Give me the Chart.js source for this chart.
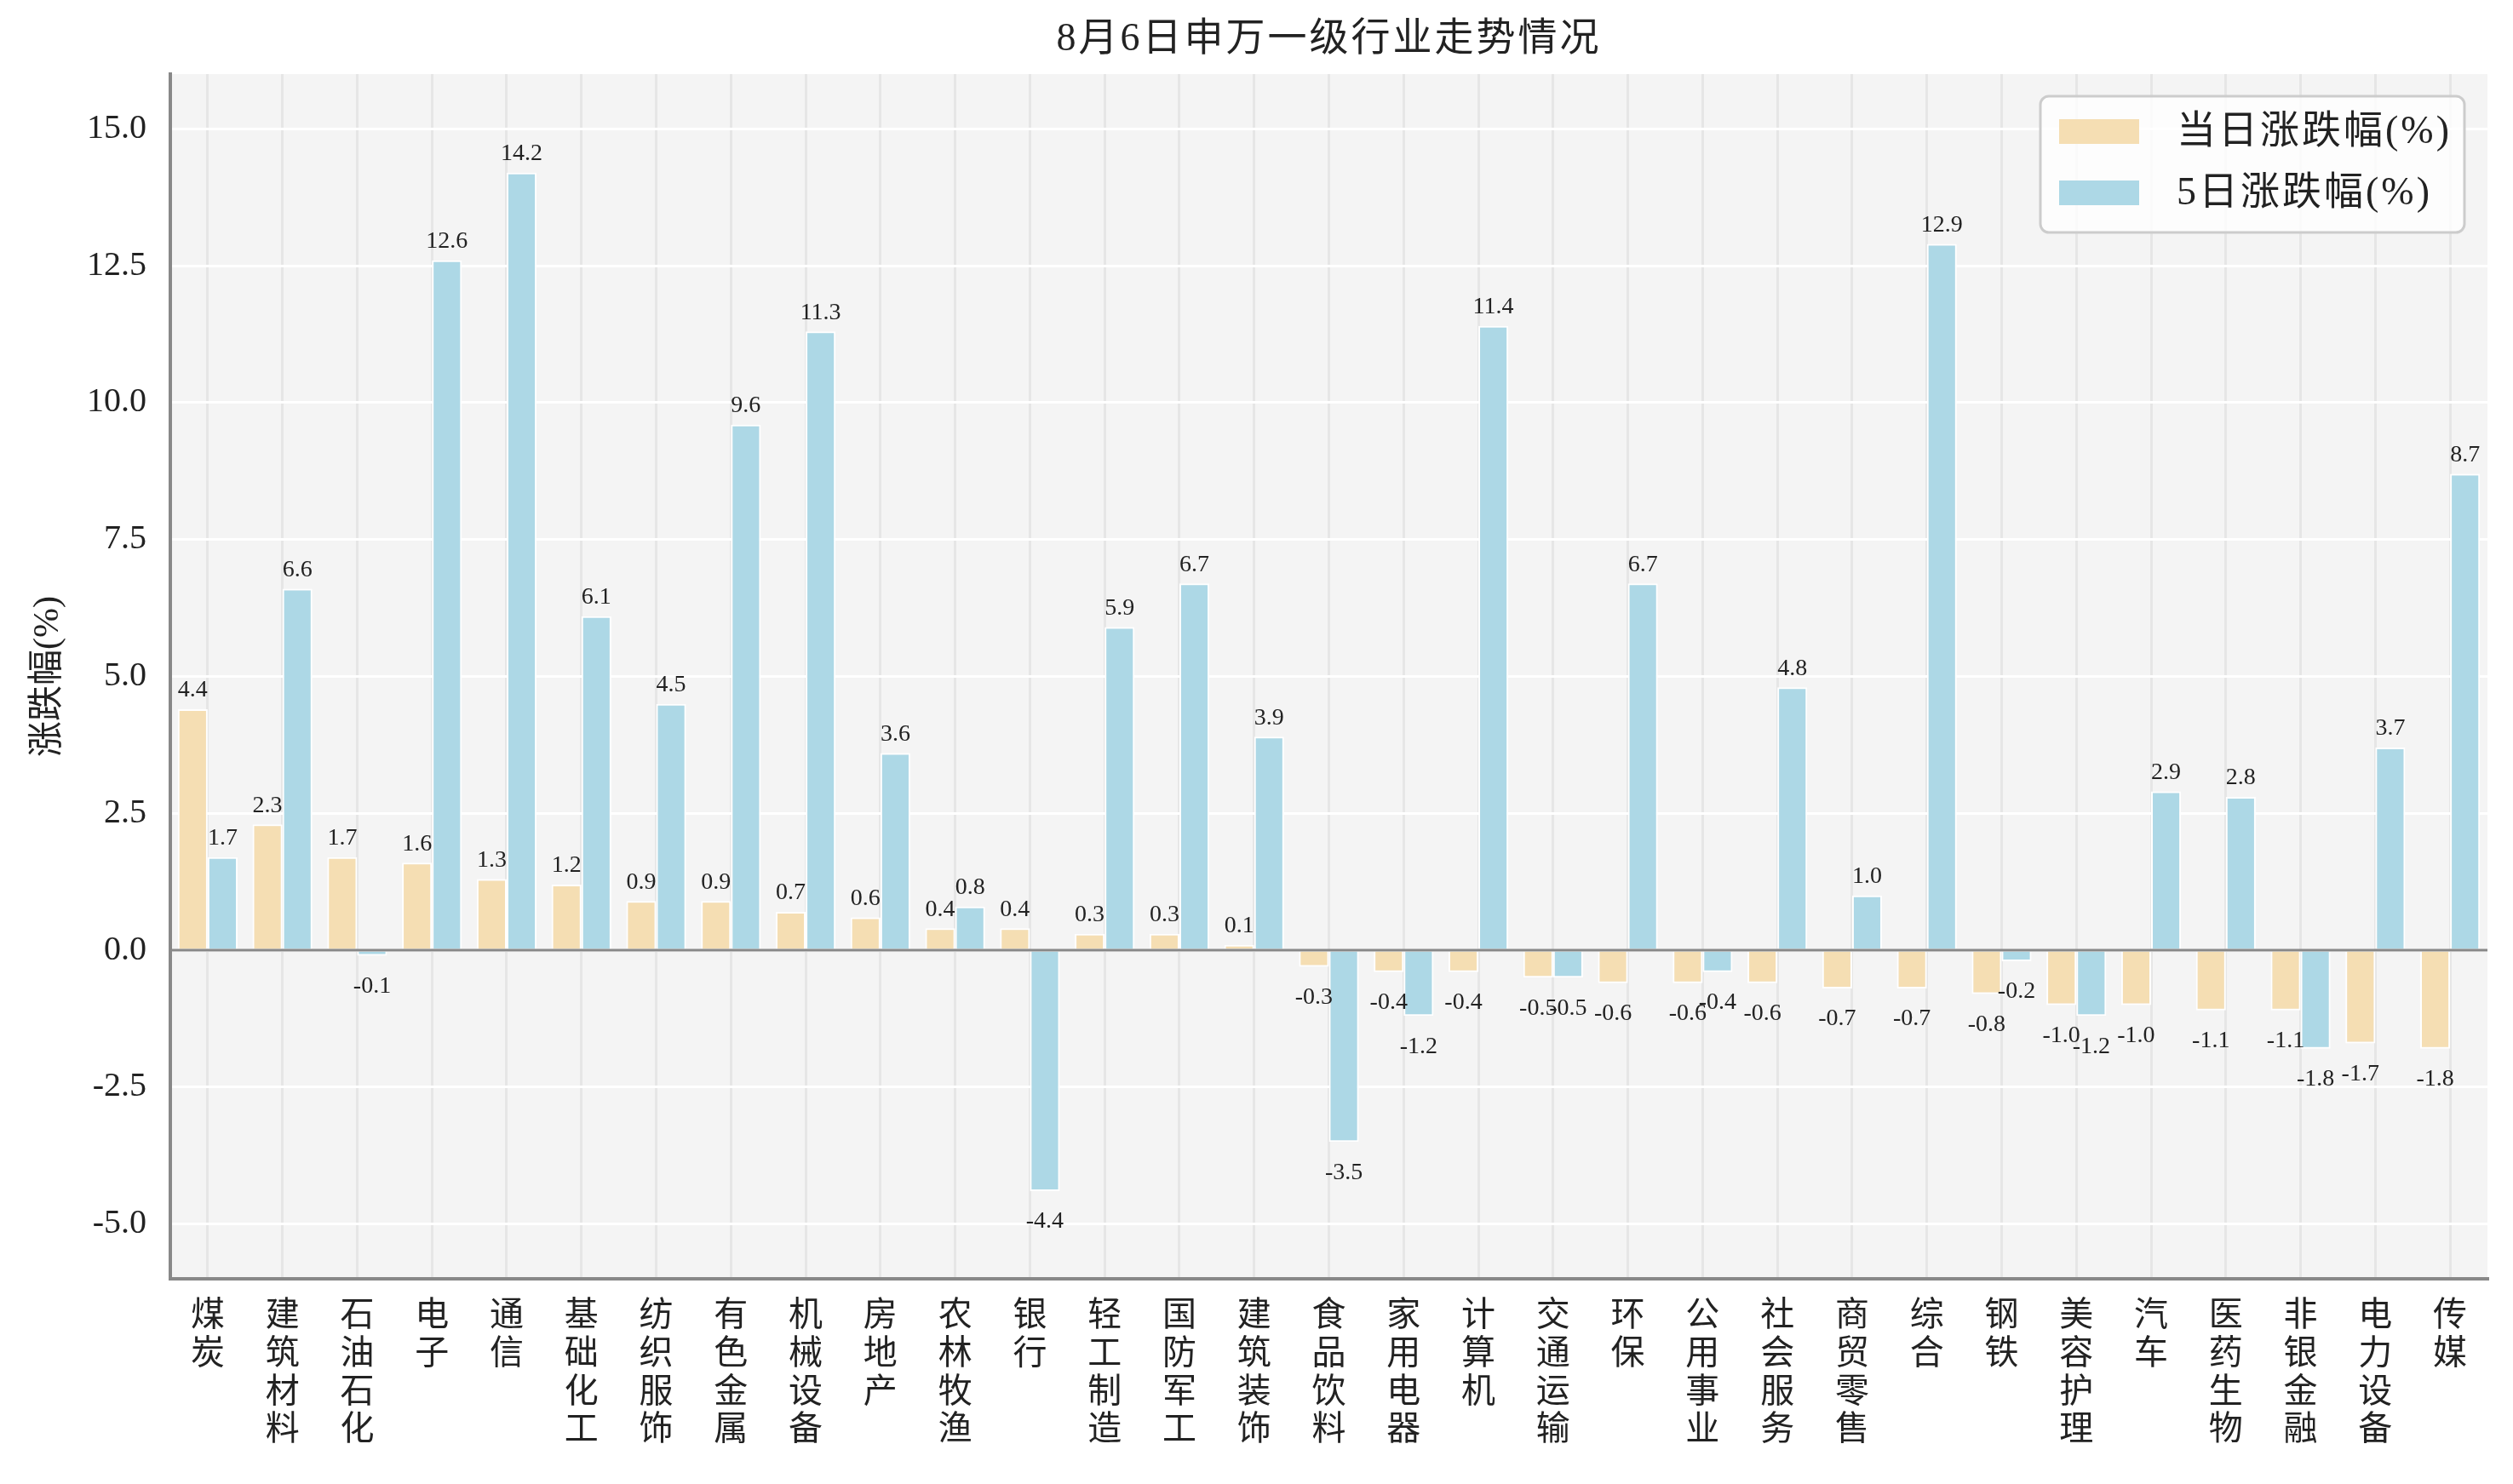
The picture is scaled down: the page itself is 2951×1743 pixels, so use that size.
<!DOCTYPE html>
<html lang="zh">
<head>
<meta charset="utf-8">
<title>8月6日申万一级行业走势情况</title>
<script src="https://cdn.jsdelivr.net/npm/chart.js@4.4.1/dist/chart.umd.min.js"></script>
<style>
  html, body { margin: 0; padding: 0; background: #fff; }
  #wrap { width: 2951px; height: 1743px; }
</style>
</head>
<body>
<div id="wrap"><canvas id="myChart" width="2951" height="1743"></canvas></div>
<script>
// 申万一级行业
const industries = ['煤炭', '建筑材料', '石油石化', '电子', '通信', '基础化工', '纺织服饰', '有色金属',
    '机械设备', '房地产', '农林牧渔', '银行', '轻工制造', '国防军工', '建筑装饰', '食品饮料',
    '家用电器', '计算机', '交通运输', '环保', '公用事业', '社会服务', '商贸零售', '综合',
    '钢铁', '美容护理', '汽车', '医药生物', '非银金融', '电力设备', '传媒'];

// 当日涨跌幅(%)
const dailyChange = [4.4, 2.3, 1.7, 1.6, 1.3, 1.2, 0.9, 0.9, 0.7, 0.6, 0.4, 0.4, 0.3, 0.3, 0.1,
    -0.3, -0.4, -0.4, -0.5, -0.6, -0.6, -0.6, -0.7, -0.7, -0.8, -1.0, -1.0, -1.1, -1.1, -1.7, -1.8];

// 5日涨跌幅(%)
const fiveDayChange = [1.7, 6.6, -0.1, 12.6, 14.2, 6.1, 4.5, 9.6, 11.3, 3.6, 0.8, -4.4, 5.9, 6.7, 3.9,
    -3.5, -1.2, 11.4, -0.5, 6.7, -0.4, 4.8, 1.0, 12.9, -0.2, -1.2, 2.9, 2.8, -1.8, 3.7, 8.7];

const yTicks = [-5, -2.5, 0, 2.5, 5, 7.5, 10, 12.5, 15];
const seriesNames = ['当日涨跌幅(%)', '5日涨跌幅(%)'];
const chartTitle = '8月6日申万一级行业走势情况';
const yTitle = '涨跌幅(%)';

const FONT = "'Liberation Serif', 'Noto Sans CJK SC', serif";
const TEXT = '#222222';

// fons gris de l'area del grafic
const plotBackground = {
    id: 'plotBackground',
    beforeDraw(chart) {
        const { ctx, chartArea: a } = chart;
        ctx.save();
        ctx.fillStyle = '#f4f4f4';
        ctx.fillRect(a.left, a.top, a.right - a.left, a.bottom - a.top);
        ctx.restore();
    }
};

// titol centrat sobre l'area del grafic
const plotTitle = {
    id: 'plotTitle',
    afterDraw(chart) {
        const { ctx, chartArea: a } = chart;
        ctx.save();
        ctx.font = `46px ${FONT}`;
        ctx.fillStyle = TEXT;
        ctx.textAlign = 'center';
        ctx.textBaseline = 'middle';
        if ('letterSpacing' in ctx) ctx.letterSpacing = '3px';
        ctx.fillText(chartTitle, (a.left + a.right) / 2, 47);
        ctx.restore();
    }
};

// linia del zero per sobre de les barres
const zeroLine = {
    id: 'zeroLine',
    afterDatasetsDraw(chart) {
        const { ctx, chartArea: a } = chart;
        const y = chart.scales.y.getPixelForValue(0);
        ctx.save();
        ctx.strokeStyle = '#888888';
        ctx.lineWidth = 3;
        ctx.beginPath();
        ctx.moveTo(a.left, y);
        ctx.lineTo(a.right, y);
        ctx.stroke();
        ctx.restore();
    }
};

// etiquetes de valor sobre / sota cada barra
const barLabels = {
    id: 'barLabels',
    afterDatasetsDraw(chart) {
        const ctx = chart.ctx;
        ctx.save();
        ctx.fillStyle = TEXT;
        ctx.font = `28px ${FONT}`;
        ctx.textAlign = 'center';
        chart.data.datasets.forEach((ds, di) => {
            const meta = chart.getDatasetMeta(di);
            meta.data.forEach((bar, i) => {
                const v = ds.data[i];
                if (v >= 0) {
                    ctx.textBaseline = 'bottom';
                    ctx.fillText(v.toFixed(1), bar.x, bar.y - 8);
                } else {
                    ctx.textBaseline = 'top';
                    ctx.fillText(v.toFixed(1), bar.x, bar.y + 22);
                }
            });
        });
        ctx.restore();
    }
};

// llegenda dins la caixa de dalt a la dreta
const boxLegend = {
    id: 'boxLegend',
    afterDraw(chart) {
        const { ctx, chartArea: a } = chart;
        const boxW = 498, boxH = 160;
        const x0 = a.right - 27 - boxW;
        const y0 = a.top + 26;
        ctx.save();
        ctx.beginPath();
        ctx.roundRect(x0, y0, boxW, boxH, 10);
        ctx.fillStyle = 'rgba(255,255,255,0.8)';
        ctx.fill();
        ctx.lineWidth = 3;
        ctx.strokeStyle = '#cccccc';
        ctx.stroke();
        ctx.font = `46px ${FONT}`;
        if ('letterSpacing' in ctx) ctx.letterSpacing = '3px';
        ctx.textBaseline = 'middle';
        ctx.textAlign = 'left';
        chart.data.datasets.forEach((ds, i) => {
            const cy = y0 + 41 + i * 72;
            ctx.fillStyle = ds.backgroundColor;
            ctx.fillRect(x0 + 22, cy - 14, 94, 29);
            ctx.fillStyle = TEXT;
            ctx.fillText(ds.label, x0 + 160, cy + 2);
        });
        ctx.restore();
    }
};

const ctx = document.getElementById('myChart').getContext('2d');
const chart = new Chart(ctx, {
    type: 'bar',
    data: {
        labels: industries.map((n) => n.split('')),
        datasets: [
            {
                label: seriesNames[0],
                data: dailyChange,
                backgroundColor: '#F5DEB3',
                borderColor: '#ffffff',
                borderWidth: 2,
                borderSkipped: 'start'
            },
            {
                label: seriesNames[1],
                data: fiveDayChange,
                backgroundColor: '#ADD8E6',
                borderColor: '#ffffff',
                borderWidth: 2,
                borderSkipped: 'start'
            }
        ]
    },
    options: {
        responsive: false,
        devicePixelRatio: 1,
        animation: false,
        layout: { padding: { left: 0, right: 30, top: 87, bottom: 0 } },
        datasets: { bar: { categoryPercentage: 0.8, barPercentage: 1.0 } },
        plugins: {
            legend: { display: false },
            tooltip: { enabled: false },
            title: { display: false }
        },
        scales: {
            x: {
                grid: { offset: false, color: '#e6e6e6', lineWidth: 3, drawTicks: false },
                border: { color: '#888888', width: 4 },
                ticks: {
                    color: TEXT,
                    font: { family: FONT, size: 40, lineHeight: 1.12 },
                    padding: 22,
                    autoSkip: false,
                    maxRotation: 0,
                    minRotation: 0
                },
                afterFit: (s) => { s.height = 241; }
            },
            y: {
                min: -6,
                max: 16,
                afterBuildTicks: (s) => { s.ticks = yTicks.map((v) => ({ value: v })); },
                grid: { color: '#ffffff', lineWidth: 3, drawTicks: false },
                border: { color: '#888888', width: 4 },
                ticks: {
                    color: TEXT,
                    font: { family: FONT, size: 40 },
                    padding: 28,
                    callback: (v) => Number(v).toFixed(1)
                },
                title: {
                    display: true,
                    text: yTitle,
                    color: TEXT,
                    font: { family: FONT, size: 42 },
                    padding: { top: 32, bottom: 0 }
                },
                afterFit: (s) => { s.width = 200; }
            }
        }
    },
    plugins: [plotBackground, zeroLine, barLabels, boxLegend, plotTitle]
});
</script>
</body>
</html>
